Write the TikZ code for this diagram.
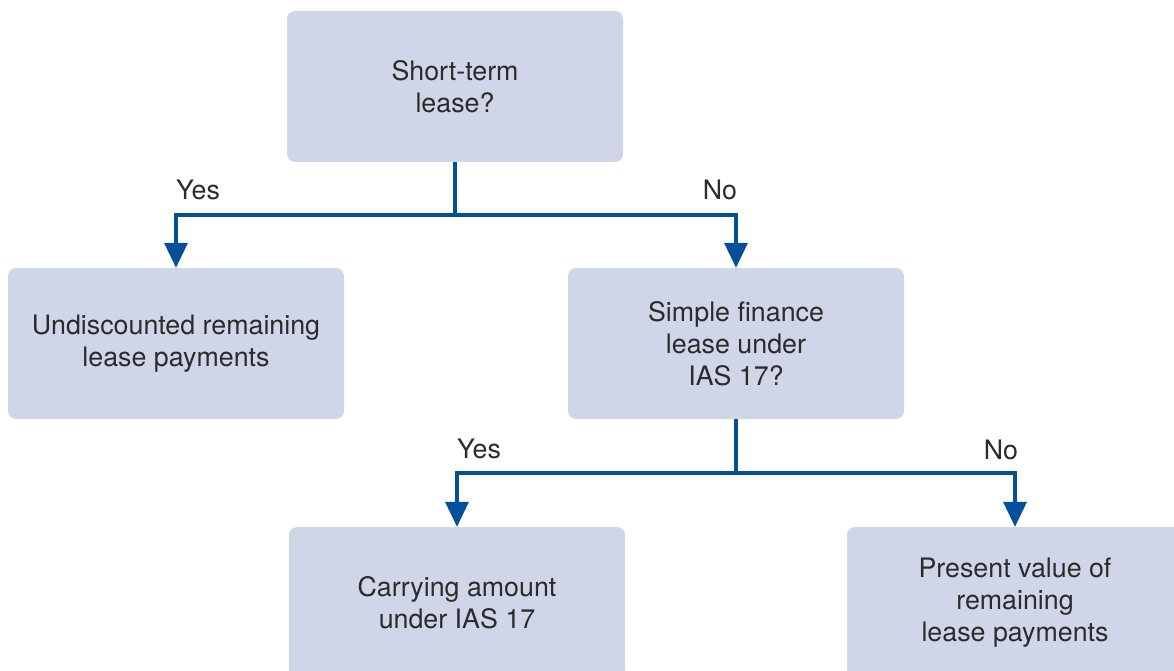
\documentclass[tikz,border=0pt]{standalone}
\usepackage{fontspec}
\setmainfont{TeX Gyre Heros}
\usetikzlibrary{arrows.meta,calc}
\definecolor{boxfill}{HTML}{D0D5E8}
\definecolor{flowline}{HTML}{00509A}
\definecolor{txt}{HTML}{2B2B2B}
\tikzset{
  decision/.style={rectangle, rounded corners=8pt, fill=boxfill, draw=none,
    minimum width=336pt, minimum height=151pt, inner sep=0pt,
    align=center, text=txt, font=\fontsize{26.8}{31.8}\selectfont},
  answer/.style={text=txt, font=\fontsize{26.8}{31.8}\selectfont, inner sep=0pt},
  conn/.style={draw=flowline, line width=3.6pt, line join=miter},
  tip/.style={conn, -{Triangle[width=23pt,length=25pt]}}
}
\begin{document}
\begin{tikzpicture}[x=1pt,y=-1pt]
  \useasboundingbox (0,0) rectangle (1174,671);
  \clip (0,0) rectangle (1174,671);
  \fill[white] (0,0) rectangle (1174,671);

  % boxes
  \node[decision] (top)    at (455,86.5)  {Short-term\\lease?};
  \node[decision] (undis)  at (176,343.5) {Undiscounted remaining\\lease payments};
  \node[decision] (simple) at (736,343.5) {Simple finance\\lease under\\IAS 17?};
  \node[decision] (carry)  at (457,602.5) {Carrying amount\\under IAS 17};
  \node[decision] (pv)     at (1015,602.5) {Present value of\\remaining\\lease payments};

  % branch points
  \coordinate (j1) at ($(top.south)+(0,53)$);
  \coordinate (j2) at ($(simple.south)+(0,54)$);

  % connectors
  \draw[conn] (top.south) -- (j1);
  \draw[tip] (j1) -| (undis.north);
  \draw[tip] (j1) -| (simple.north);
  \draw[conn] (simple.south) -- (j2);
  \draw[tip] (j2) -| (carry.north);
  \draw[tip] (j2) -| (pv.north);

  % branch labels
  \node[answer] (y1) at (198,190) {Yes};
  \node[answer] (n1) at (720,190) {No};
  \node[answer] (y2) at (479,449) {Yes};
  \node[answer] (n2) at (1001,450) {No};
\end{tikzpicture}
\end{document}
